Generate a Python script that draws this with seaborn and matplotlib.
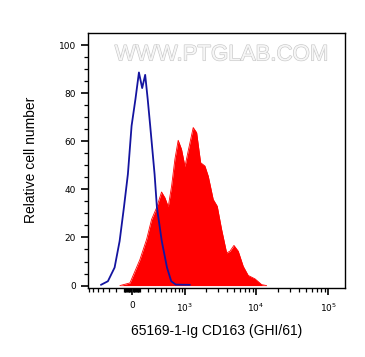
"""Flow cytometry overlay histogram: isotype control vs CD163 staining."""

import matplotlib

matplotlib.use("Agg")
import matplotlib.pyplot as plt
import matplotlib.patheffects as pe
import numpy as np
import pandas as pd
import seaborn as sns

# control (blue outline), x in fluorescence units
control_x = [-441, -321, -221, -153, -98, -49, -4, 43, 86, 127, 166, 200, 235,
             300, 337, 420, 521, 613, 726, 1183]
control_y = [0.3, 1.8, 7.5, 18.5, 32.5, 46.3, 66.4, 77.5, 88.6, 82.1, 87.6, 77.5,
             66.4, 46.3, 32.5, 18.5, 7.5, 1.8, 0.4, 0.3]

# stained sample (red filled)
sample_x = [-149, -24, 98, 185, 255, 332, 416, 480, 547, 622, 702, 790, 888, 1000,
            1116, 1320, 1479, 1686, 1941, 2162, 2540, 2891, 3330, 3910, 4347,
            4944, 5673, 6658, 7809, 9682, 11989, 14068]
sample_y = [0, 1.1, 10.8, 19.2, 27.5, 32.4, 38.9, 36.5, 32.8, 41.4, 52.5, 60.4,
            56.7, 49.5, 56.0, 65.7, 63.6, 51.1, 49.7, 45.5, 35.8, 33.0, 23.3, 13.6,
            14.3, 16.7, 14.3, 8.0, 4.2, 2.8, 0.4, 0]

x_major = [0, 1e3, 1e4, 1e5]
x_major_labels = ["0", r"$10^{3}$", r"$10^{4}$", r"$10^{5}$"]
x_minor = ([-v for v in range(100, 800, 100)] + [v for v in range(-90, 100, 10) if v]
           + list(range(100, 1000, 100)) + list(range(2000, 10000, 1000))
           + list(range(20000, 100000, 10000)))

COFACTOR = 380.0


def fwd(x):
    return np.arcsinh(np.asarray(x, dtype=float) / COFACTOR)


def inv(y):
    return COFACTOR * np.sinh(np.asarray(y, dtype=float))


sns.set_style("ticks")
plt.rcParams["font.family"] = ["DejaVu Sans"]
plt.rcParams["mathtext.default"] = "regular"

fig = plt.figure(figsize=(3.65, 3.57), dpi=100)
ax = fig.add_axes([88 / 365, 1 - 287.5 / 357, 257 / 365, 254.5 / 357])
ax.set_xscale("function", functions=(fwd, inv))

sample = pd.DataFrame({"x": sample_x, "y": sample_y})
control = pd.DataFrame({"x": control_x, "y": control_y})

ax.fill_between(sample["x"], sample["y"], 0, color="#ff0000", lw=0, zorder=2)
sns.lineplot(data=sample, x="x", y="y", ax=ax, color="#ff0000", lw=0.6,
             sort=False, zorder=2)
sns.lineplot(data=control, x="x", y="y", ax=ax, color="#1414a0", lw=1.3,
             sort=False, zorder=3)

ax.set_xlim(-726, 1.72e5)
ax.set_ylim(-0.8, 105)

ax.set_xticks(x_major)
ax.set_xticklabels(x_major_labels)
ax.set_xticks(x_minor, minor=True)
ax.set_yticks(range(0, 101, 20))
ax.set_yticks(range(0, 101, 5), minor=True)

ax.tick_params(which="major", length=5, width=1.2, labelsize=6.5, pad=3.5,
               color="black", labelcolor="black")
ax.tick_params(axis="x", which="major", pad=5)
ax.tick_params(which="minor", length=3, width=0.9, color="black")
for s in ax.spines.values():
    s.set_linewidth(1.0)
    s.set_color("black")

ax.set_xlabel("65169-1-Ig CD163 (GHI/61)", family=["Liberation Sans"],
              fontsize=10, va="center", color="black")
ax.set_ylabel("Relative cell number", family=["Liberation Sans"],
              fontsize=10, va="center", color="black")
ax.xaxis.set_label_coords(0.5, -0.171)
ax.yaxis.set_label_coords(-0.22, 0.5)

ax.text(0.52, 0.914, "WWW.PTGLAB.COM", transform=ax.transAxes, ha="center",
        va="center", fontsize=16, family=["Liberation Sans"], color="#f6f6f6",
        path_effects=[pe.withStroke(linewidth=0.9, foreground="#c8c8c8")],
        zorder=1)

fig.savefig("out.png", dpi=100)
